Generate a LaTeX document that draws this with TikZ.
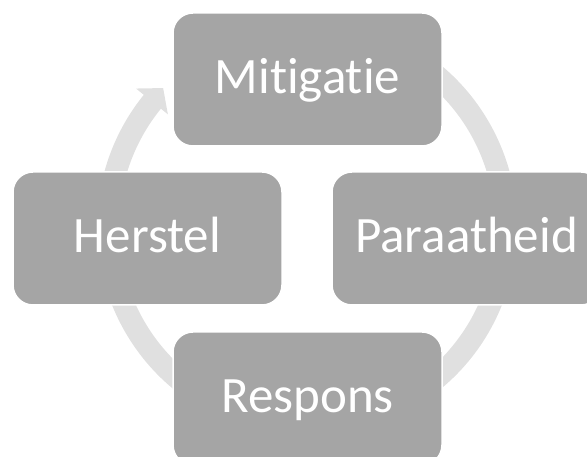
\documentclass[tikz,border=0pt]{standalone}
\usepackage{fontspec}
\setmainfont{Carlito}[Ligatures={NoCommon}]
\definecolor{boxgray}{HTML}{A5A5A5}
\definecolor{ringgray}{HTML}{E0E0E0}
\tikzset{
  phase/.style={
    draw=white, line width=1.5pt, fill=boxgray, rounded corners=20pt,
    minimum width=269pt, minimum height=133pt, inner sep=0pt,
    text=white, font=\fontsize{51}{60}\selectfont,
    text height=36pt, text depth=7pt
  }
}
\begin{document}
\begin{tikzpicture}[x=1pt,y=1pt]
  \useasboundingbox (0,0) rectangle (587,457);
  \clip (0,0) rectangle (587,457);
  % circular arrow behind the phases
  \begin{scope}[shift={(307,230)}]
    \fill[ringgray] (120:210) arc[start angle=120, end angle=-219, radius=210]
      -- (141:220) -- (136:200) -- (141:179) -- (141:188)
      arc[start angle=-219, end angle=120, radius=188] -- cycle;
  \end{scope}
  % the four phases
  \node[phase] (mitigatie)  at (307.5,377.5) {Mitigatie};
  \node[phase] (paraatheid) at (466.5,218.5) {Paraatheid};
  \node[phase] (respons)    at (307.5,58.5)  {Respons};
  \node[phase] (herstel)    at (147.5,218.5) {Herstel};
\end{tikzpicture}
\end{document}
